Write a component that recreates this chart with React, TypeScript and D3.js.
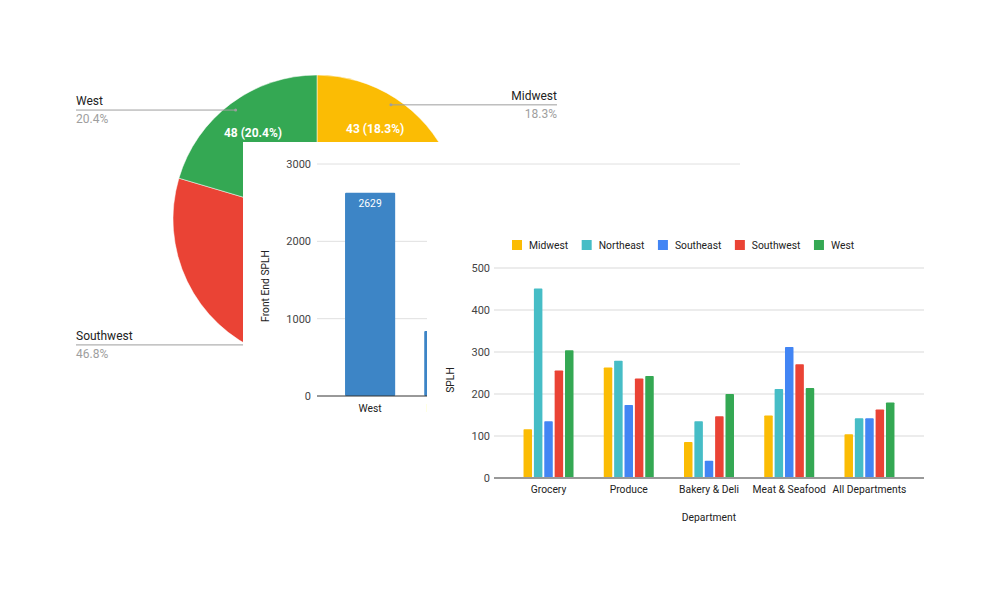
import React from "react";
import * as d3 from "d3";

// ---------- DATA ----------
const pieRegions = ["Midwest", "Northeast", "Southeast", "Southwest", "West"];
const pieValues = [43, 16, 18, 110, 48];
const regionColors = ["#fbbc04", "#46bdc6", "#4285f4", "#ea4335", "#34a853"];

const frontEndCategories = ["West", "Northeast", "Southwest", "Midwest", "Southeast"];
const frontEndValues = [2629, 840, 760, 700, 650];
const frontEndTicks = [0, 1000, 2000, 3000];

const departments = ["Grocery", "Produce", "Bakery & Deli", "Meat & Seafood", "All Departments"];
const splhSeries = ["Midwest", "Northeast", "Southeast", "Southwest", "West"];
const splhMidwest = [116, 263, 86, 149, 104];
const splhNortheast = [451, 279, 135, 212, 142];
const splhSoutheast = [135, 174, 41, 312, 142];
const splhSouthwest = [256, 237, 147, 271, 163];
const splhWest = [304, 243, 200, 214, 180];
const splhTicks = [0, 100, 200, 300, 400, 500];

const FONT = "Roboto, 'Noto Sans', Arial, sans-serif";
const LBL = 10.3;

function textWidth(t: string, size: number) {
  if (typeof document === "undefined") return t.length * size * 0.55;
  const c = document.createElement("canvas");
  const ctx = c.getContext("2d");
  if (!ctx) return t.length * size * 0.55;
  ctx.font = `${size}px Roboto`;
  return ctx.measureText(t).width;
}

function PiePanel() {
  const cx = 317, cy = 219, R = 144;
  const total = d3.sum(pieValues);
  const pie = d3.pie<number>().sort(null).startAngle(0).endAngle(2 * Math.PI);
  const arcs = pie(pieValues);
  const arc = d3.arc<d3.PieArcDatum<number>>().innerRadius(0).outerRadius(R);
  const pct = (v: number) => ((v / total) * 100).toFixed(1) + "%";
  return (
    <g>
      <rect x={0} y={0} width={1000} height={600} fill="#fff" />
      <g transform={`translate(${cx},${cy})`}>
        {arcs.map((a, i) => (
          <path key={i} d={arc(a) || ""} fill={regionColors[i]} stroke="#fff" strokeWidth={0.5} />
        ))}
        {arcs.map((a, i) => {
          const mid = (a.startAngle + a.endAngle) / 2;
          const r = 107;
          return (
            <text key={"in" + i} x={Math.sin(mid) * r} y={-Math.cos(mid) * r + 4}
              textAnchor="middle" fill="#fff" fontWeight="bold" fontSize={12} fontFamily={FONT}>
              {`${pieValues[i]} (${pct(pieValues[i])})`}
            </text>
          );
        })}
      </g>
      {arcs.map((a, i) => {
        const mid = (a.startAngle + a.endAngle) / 2;
        const r = 136;
        const dx = cx + Math.sin(mid) * r;
        const dy = cy - Math.cos(mid) * r;
        const right = Math.sin(mid) > 0;
        const lx = right ? 557 : 76;
        return (
          <g key={"lab" + i}>
            <line x1={dx} y1={dy} x2={lx} y2={dy} stroke="#9e9e9e" strokeWidth={1} />
            <circle cx={dx} cy={dy} r={1.5} fill="#9e9e9e" />
            <text x={lx} y={dy - 5} textAnchor={right ? "end" : "start"} fontSize={12}
              fill="#222" fontFamily={FONT}>{pieRegions[i]}</text>
            <text x={lx} y={dy + 13} textAnchor={right ? "end" : "start"} fontSize={12}
              fill="#9e9e9e" fontFamily={FONT}>{pct(pieValues[i])}</text>
          </g>
        );
      })}
    </g>
  );
}

function FrontEndPanel() {
  const x = d3.scaleBand<string>().domain(frontEndCategories).range([317, 740])
    .paddingInner(0.367).paddingOuter(0.354);
  const y = d3.scaleLinear().domain([0, 3000]).range([396, 164]);
  return (
    <g>
      <rect x={243} y={142} width={520} height={290} fill="#fff" />
      {frontEndTicks.map((t) => (
        <g key={t}>
          {t !== 0 && <line x1={317} x2={740} y1={y(t)} y2={y(t)} stroke="#e0e0e0" strokeWidth={1} />}
          <text x={311} y={y(t) + 4} textAnchor="end" fontSize={11} fill="#444" fontFamily={FONT}>{t}</text>
        </g>
      ))}
      {frontEndCategories.map((c, i) => (
        <g key={c}>
          <rect x={x(c)!} y={y(frontEndValues[i])} width={x.bandwidth()}
            height={y(0) - y(frontEndValues[i])} fill="#3d85c6" rx={1} />
          <text x={x(c)! + x.bandwidth() / 2} y={y(frontEndValues[i]) + 14} textAnchor="middle"
            fontSize={LBL} fill="#fff" fontFamily={FONT}>{frontEndValues[i]}</text>
          <text x={x(c)! + x.bandwidth() / 2} y={412} textAnchor="middle" fontSize={LBL}
            fill="#222" fontFamily={FONT}>{c}</text>
        </g>
      ))}
      <line x1={317} x2={740} y1={y(0)} y2={y(0)} stroke="#333" strokeWidth={1} />
      <text transform={`translate(269,286) rotate(-90)`} textAnchor="middle" fontSize={LBL}
        fill="#222" fontFamily={FONT}>Front End SPLH</text>
    </g>
  );
}

function SplhPanel() {
  const seriesValues = [splhMidwest, splhNortheast, splhSoutheast, splhSouthwest, splhWest];
  const x0 = d3.scaleBand<string>().domain(departments).range([494, 924])
    .paddingInner(0.377).paddingOuter(0.368);
  const x1 = d3.scaleBand<string>().domain(splhSeries).range([0, x0.bandwidth()]).paddingInner(0.18);
  const y = d3.scaleLinear().domain([0, 500]).range([478, 268]);

  // legend layout
  let cursor = 512;
  const legend = splhSeries.map((s, i) => {
    const item = { s, i, x: cursor };
    cursor += 17 + textWidth(s, LBL) + 13.5;
    return item;
  });

  return (
    <g>
      <rect x={427} y={200} width={560} height={370} fill="#fff" />
      {legend.map((l) => (
        <g key={l.s}>
          <rect x={l.x} y={240} width={10} height={10} fill={regionColors[l.i]} />
          <text x={l.x + 17} y={249} fontSize={LBL} fill="#222" fontFamily={FONT}>{l.s}</text>
        </g>
      ))}
      {splhTicks.map((t) => (
        <g key={t}>
          {t !== 0 && <line x1={494} x2={924} y1={y(t)} y2={y(t)} stroke="#d9d9d9" strokeWidth={1} />}
          <text x={490} y={y(t) + 4} textAnchor="end" fontSize={11} fill="#444" fontFamily={FONT}>{t}</text>
        </g>
      ))}
      {departments.map((d, di) => (
        <g key={d} transform={`translate(${x0(d)},0)`}>
          {splhSeries.map((s, si) => (
            <rect key={s} x={x1(s)!} y={y(seriesValues[si][di])} width={x1.bandwidth()}
              height={y(0) - y(seriesValues[si][di])} fill={regionColors[si]} rx={0.8} />
          ))}
          <text x={x0.bandwidth() / 2} y={493} textAnchor="middle" fontSize={LBL} fill="#222"
            fontFamily={FONT}>{d}</text>
        </g>
      ))}
      <line x1={494} x2={924} y1={y(0)} y2={y(0)} stroke="#999" strokeWidth={2} />
      <text x={709} y={521} textAnchor="middle" fontSize={LBL} fill="#222" fontFamily={FONT}>Department</text>
      <text transform={`translate(454,380) rotate(-90)`} textAnchor="middle" fontSize={LBL}
        fill="#222" fontFamily={FONT}>SPLH</text>
    </g>
  );
}

export default function App() {
  React.useEffect(() => {
    document.body.style.margin = "0";
  }, []);
  return (
    <div style={{ position: "fixed", left: 0, top: 0, width: 1000, height: 600, background: "#fff" }}>
      <svg width={1000} height={600} viewBox="0 0 1000 600">
        <PiePanel />
        <FrontEndPanel />
        <SplhPanel />
      </svg>
    </div>
  );
}
